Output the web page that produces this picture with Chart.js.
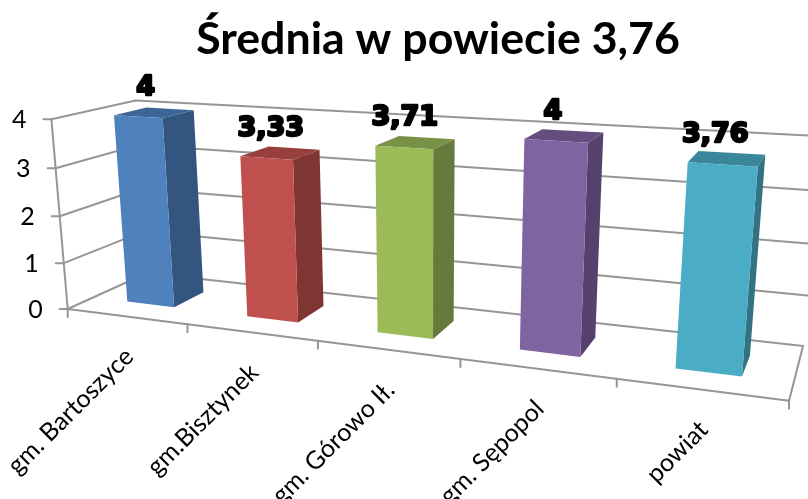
<!DOCTYPE html>
<html>
<head>
<meta charset="utf-8">
<title>Średnia w powiecie</title>
<script src="https://cdn.jsdelivr.net/npm/chart.js@4"></script>
<style>
    html, body { margin: 0; padding: 0; background: #fff; overflow: hidden; }
    canvas { display: block; }
</style>
</head>
<body>
<canvas id="chart" width="808" height="499"></canvas>
<script>
const categories = ['gm. Bartoszyce', 'gm.Bisztynek', 'gm. Górowo Ił.', 'gm. Sępopol', 'powiat'];
const values = [4, 3.33, 3.71, 4, 3.76];
const yMin = 0;
const yMax = 4;
const yStep = 1;

const frontColors = ['#4f81bd', '#c0504d', '#9bbb59', '#8064a2', '#4bacc6'];
const sideColors = ['#34557f', '#7f3633', '#67793b', '#55426c', '#327283'];
const topColors = ['#3d6597', '#963f3c', '#799147', '#644e7f', '#3a869b'];

const gridColor = '#969696';
const textFont = 'Lato, "Open Sans", sans-serif';

// bars take this slice of the floor depth (0 = front, 1 = back wall)
const depthFront = 0.3;
const depthBack = 0.7;

// perspective camera, fitted to the corners of the plot box
const cam = {
    a: 561, b: 94.6, c: 67.7, p: -18.5,
    d: 10.3, e: -7.6, f: 309, q: -194.8,
    g: -0.2032, h: 0.1039, r: -0.043
};

// u = along categories, v = along values, z = depth, all 0..1
function project(u, v, z) {
    const w = cam.g * u + cam.h * z + cam.r * v + 1;
    return [
        (cam.a * u + cam.b * z + cam.p * v + cam.c) / w,
        (cam.d * u + cam.e * z + cam.q * v + cam.f) / w
    ];
}

function line(ctx, from, to) {
    ctx.beginPath();
    ctx.moveTo(from[0], from[1]);
    ctx.lineTo(to[0], to[1]);
    ctx.stroke();
}

function face(ctx, points, color) {
    ctx.fillStyle = color;
    ctx.beginPath();
    points.forEach(function(p, i) {
        if (i === 0) ctx.moveTo(p[0], p[1]);
        else ctx.lineTo(p[0], p[1]);
    });
    ctx.closePath();
    ctx.fill();
}

function drawBox(chart, ctx) {
    const area = chart.chartArea;
    const xScale = chart.scales.x;
    const yScale = chart.scales.y;
    ctx.strokeStyle = gridColor;
    ctx.lineWidth = 2;
    ctx.lineCap = 'round';

    // walls, one line per value tick
    yScale.ticks.forEach(function(tick) {
        const v = (area.bottom - yScale.getPixelForValue(tick.value)) / area.height;
        const front = project(0, v, 0);
        const corner = project(0, v, 1);
        line(ctx, front, corner);
        line(ctx, corner, project(1, v, 1));
        line(ctx, front, [front[0] - 8, front[1]]);

        ctx.fillStyle = '#000';
        ctx.font = '25px ' + textFont;
        ctx.textAlign = 'right';
        ctx.textBaseline = 'middle';
        ctx.fillText(tick.label, front[0] - 25, front[1] + 1);
    });

    // floor and the left edge
    line(ctx, project(0, 0, 0), project(0, 1, 0));
    line(ctx, project(0, 0, 0), project(1, 0, 0));
    line(ctx, project(1, 0, 0), project(1, 0, 1));

    // category ticks sit between the categories
    const step = area.width / categories.length;
    for (let i = 0; i <= categories.length; i++) {
        const p = project(i * step / area.width, 0, 0);
        line(ctx, p, [p[0], p[1] + 8]);
    }

    xScale.ticks.forEach(function(tick, i) {
        const u = (xScale.getPixelForValue(tick.value) - area.left) / area.width;
        const p = project(u, 0, 0);
        ctx.save();
        ctx.translate(p[0] + 3, p[1] + 36);
        ctx.rotate(-Math.PI / 4);
        ctx.fillStyle = '#000';
        ctx.font = '25px ' + textFont;
        ctx.textAlign = 'right';
        ctx.textBaseline = 'middle';
        ctx.fillText(tick.label, 0, 0);
        ctx.restore();
    });
}

function drawBars(chart, ctx) {
    const area = chart.chartArea;
    const meta = chart.getDatasetMeta(0);
    meta.data.forEach(function(bar, i) {
        const u0 = (bar.x - bar.width / 2 - area.left) / area.width;
        const u1 = (bar.x + bar.width / 2 - area.left) / area.width;
        const v0 = (area.bottom - bar.base) / area.height;
        const v1 = (area.bottom - bar.y) / area.height;

        face(ctx, [project(u1, v0, depthFront), project(u1, v0, depthBack),
            project(u1, v1, depthBack), project(u1, v1, depthFront)], sideColors[i]);
        face(ctx, [project(u0, v1, depthFront), project(u1, v1, depthFront),
            project(u1, v1, depthBack), project(u0, v1, depthBack)], topColors[i]);
        face(ctx, [project(u0, v0, depthFront), project(u1, v0, depthFront),
            project(u1, v1, depthFront), project(u0, v1, depthFront)], frontColors[i]);
    });
}

function drawValues(chart, ctx) {
    const area = chart.chartArea;
    const middle = (area.left + area.right) / 2;
    const meta = chart.getDatasetMeta(0);
    meta.data.forEach(function(bar, i) {
        const u = (bar.x - area.left) / area.width;
        const v = (area.bottom - bar.y) / area.height;
        const p = project(u, v, depthFront);
        // labels spread a little less than the bars do
        const x = p[0] + (middle - p[0]) * 0.025;
        const text = String(values[i]).replace('.', ',');
        ctx.font = 'bold 27px "DejaVu Sans", sans-serif';
        ctx.textAlign = 'center';
        ctx.textBaseline = 'middle';
        ctx.lineJoin = 'round';
        ctx.lineWidth = 2.5;
        ctx.strokeStyle = '#000';
        ctx.fillStyle = '#000';
        ctx.strokeText(text, x, p[1] - 29);
        ctx.fillText(text, x, p[1] - 29);
    });
}

// Chart.js has no 3D bars, so the scales do the layout and this paints it in perspective
const perspective = {
    id: 'perspective',
    beforeDatasetsDraw: function(chart) {
        const ctx = chart.ctx;
        ctx.save();
        drawBox(chart, ctx);
        drawBars(chart, ctx);
        drawValues(chart, ctx);
        ctx.restore();
        return false;
    }
};

new Chart(document.getElementById('chart'), {
    type: 'bar',
    data: {
        labels: categories,
        datasets: [{
            data: values,
            backgroundColor: frontColors,
            barPercentage: 0.4,
            categoryPercentage: 1
        }]
    },
    options: {
        responsive: false,
        animation: false,
        layout: { padding: { left: 68 } },
        scales: {
            x: { display: false, ticks: { autoSkip: false } },
            y: { display: false, min: yMin, max: yMax, ticks: { stepSize: yStep } }
        },
        plugins: {
            legend: { display: false },
            tooltip: { enabled: false },
            title: {
                display: true,
                text: 'Średnia w powiecie 3,76',
                color: '#000',
                font: { family: textFont, size: 44.7, weight: 'bold' },
                padding: { top: 13, bottom: 10 }
            }
        }
    },
    plugins: [perspective]
});
</script>
</body>
</html>
